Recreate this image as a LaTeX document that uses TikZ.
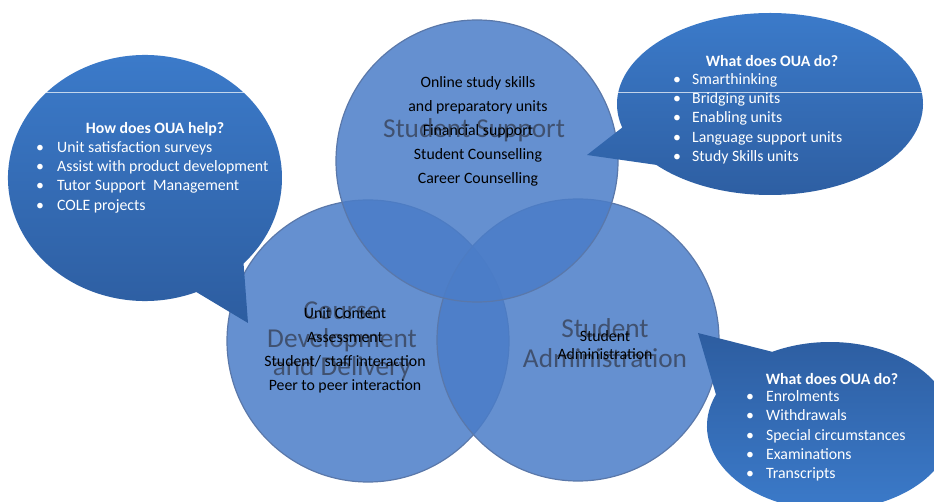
\documentclass[tikz,border=0pt]{standalone}
\usepackage{fontspec}
\setmainfont{Carlito}
\usepackage{tikz}
\usetikzlibrary{positioning, calc}

\definecolor{vennfill}{RGB}{75,125,200}
\definecolor{vennedge}{RGB}{90,120,170}
\definecolor{titlegrey}{RGB}{55,66,88}
\definecolor{bubtop}{RGB}{60,124,204}
\definecolor{bubbot}{RGB}{45,93,160}

\newcommand{\bitem}[2][20pt]{\makebox[#1][l]{\textbullet}#2}

\begin{document}
\begin{tikzpicture}[x=1pt, y=1pt,
    venn/.style={circle, draw=vennedge, line width=1.2pt, fill=vennfill, fill opacity=0.85, minimum size=282pt, inner sep=0pt},
    bigtitle/.style={text=titlegrey, text opacity=0.8, font=\fontsize{27.3}{28}\selectfont, align=center, inner sep=0pt},
    inlist/.style={font=\fontsize{15.8}{24}\selectfont, align=center, inner sep=0pt},
    bubble/.style={top color=bubtop, bottom color=bubbot},
    gloss/.style={white, opacity=0.7, line width=0.8pt},
    bubhead/.style={text=white, font=\bfseries\fontsize{15.8}{19}\selectfont, inner sep=0pt},
    bublist/.style={text=white, font=\fontsize{15.8}{19.3}\selectfont, align=left, anchor=west, inner sep=0pt}]

    \fill[white] (0,0) rectangle (934,-502);
    \useasboundingbox (0,0) rectangle (934,-502);

    % Circles
    \node[venn] (course) at (368,-341) {};
    \node[venn] (admin) at (578,-340) {};
    \node[venn] (support) at (477,-161) {};

    % Circle titles
    \node[bigtitle] (supporttitle) at (474,-130) {Student Support};
    \node[bigtitle] (coursetitle) at (342,-341) {Course\\Development\\and Delivery};
    \node[bigtitle, font=\fontsize{27.3}{30}\selectfont] (admintitle) at (605,-343) {Student\\Administration};

    % Circle contents
    \node[inlist] (supportlist) at (478,-131) {Online study skills\\and preparatory units\\Financial support\\Student Counselling\\Career Counselling};
    \node[inlist] (courselist) at (345,-350) {Unit Content\\Assessment\\Student/ staff interaction\\Peer to peer interaction};
    \node[inlist, font=\fontsize{15.8}{17.5}\selectfont] (adminlist) at (605,-345) {Student\\Administration};

    % Callouts
    \coordinate (helpc) at (145,-178);
    \coordinate (helptip) at (248,-323);
    \shade[bubble] ($(helpc)+(-44:137 and 123)$) -- (helptip) -- ($(helpc)+(-68:137 and 123)$)
        arc[start angle=-68, end angle=-404, x radius=137pt, y radius=123pt] -- cycle;
    \draw[gloss] ($(helpc)+(44:137 and 123)$) -- ($(helpc)+(136:137 and 123)$);

    \coordinate (supc) at (770,-104);
    \coordinate (suptip) at (587,-155);
    \shade[bubble] ($(supc)+(195:153 and 91)$) -- (suptip) -- ($(supc)+(222:153 and 91)$)
        arc[start angle=222, end angle=555, x radius=153pt, y radius=91pt] -- cycle;
    \draw[gloss] ($(supc)+(7.6:153 and 91)$) -- ($(supc)+(172.4:153 and 91)$);

    \coordinate (admc) at (830,-426);
    \coordinate (admtip) at (698,-333);
    \shade[top color=bubbot, bottom color=bubtop] ($(admc)+(118:123 and 84)$) -- (admtip) -- ($(admc)+(158:123 and 84)$)
        arc[start angle=158, end angle=478, x radius=123pt, y radius=84pt] -- cycle;

    % Callout texts
    \node[bubhead] (helphead) at (155,-129) {How does OUA help?};
    \node[bublist] (helplist) at (36,-177) {\bitem[21pt]{Unit satisfaction surveys}\\\bitem[21pt]{Assist with product development}\\\bitem[21pt]{Tutor Support\ \ Management}\\\bitem[21pt]{COLE projects}};

    \node[bubhead] (suphead) at (772,-61) {What does OUA do?};
    \node[bublist] (suplist) at (673,-118.5) {\bitem[19pt]{Smarthinking}\\\bitem[19pt]{Bridging units}\\\bitem[19pt]{Enabling units}\\\bitem[19pt]{Language support units}\\\bitem[19pt]{Study Skills units}};

    \node[bubhead] (admhead) at (832,-379) {What does OUA do?};
    \node[bublist] (admlist) at (746,-436) {\bitem{Enrolments}\\\bitem{Withdrawals}\\\bitem{Special circumstances}\\\bitem{Examinations}\\\bitem{Transcripts}};
\end{tikzpicture}
\end{document}
